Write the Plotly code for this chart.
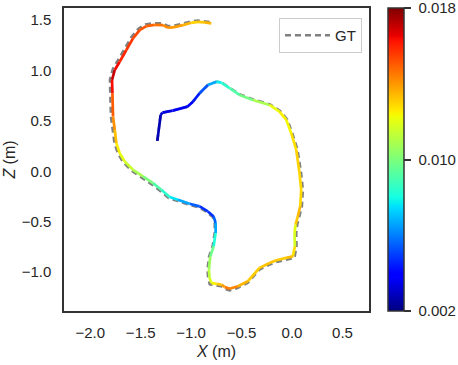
import plotly.graph_objects as go
from plotly.colors import sample_colorscale

# estimated trajectory (m)
est_x = [-1.335, -1.302, -1.285, -1.183, -1.035, -0.982, -0.916, -0.834, -0.750, -0.701,
         -0.619, -0.520, -0.388, -0.223, -0.124, -0.057, -0.008, 0.042, 0.074, 0.091,
         0.081, 0.057, 0.035, 0.025, 0.028, 0.008, -0.057, -0.156, -0.223, -0.322,
         -0.438, -0.537, -0.619, -0.668, -0.701, -0.750, -0.800, -0.817, -0.824, -0.810,
         -0.777, -0.757, -0.757, -0.777, -0.834, -0.916, -1.015, -1.131, -1.213, -1.295,
         -1.378, -1.477, -1.576, -1.658, -1.708, -1.741, -1.757, -1.774, -1.780, -1.784,
         -1.757, -1.708, -1.642, -1.576, -1.510, -1.444, -1.361, -1.279, -1.229, -1.180,
         -1.081, -0.998, -0.933, -0.866, -0.800]
est_z = [0.302, 0.559, 0.582, 0.602, 0.642, 0.691, 0.774, 0.856, 0.889, 0.879,
         0.824, 0.757, 0.708, 0.658, 0.592, 0.510, 0.378, 0.213, -0.015, -0.183,
         -0.349, -0.448, -0.530, -0.612, -0.745, -0.844, -0.859, -0.883, -0.909, -0.958,
         -1.091, -1.141, -1.166, -1.147, -1.124, -1.117, -1.107, -1.057, -0.975, -0.844,
         -0.745, -0.612, -0.513, -0.448, -0.398, -0.348, -0.322, -0.282, -0.255, -0.183,
         -0.117, -0.051, 0.015, 0.097, 0.180, 0.279, 0.411, 0.543, 0.774, 0.906,
         1.005, 1.087, 1.203, 1.319, 1.401, 1.441, 1.453, 1.450, 1.424, 1.428,
         1.450, 1.473, 1.483, 1.477, 1.467]
# per-point error
err = [0.0025, 0.0030, 0.0032, 0.0035, 0.0037, 0.0040, 0.0048, 0.0058, 0.0075, 0.0080,
       0.0088, 0.0095, 0.0102, 0.0115, 0.0128, 0.0122, 0.0125, 0.0130, 0.0130, 0.0128,
       0.0130, 0.0138, 0.0125, 0.0115, 0.0120, 0.0135, 0.0132, 0.0130, 0.0135, 0.0130,
       0.0132, 0.0138, 0.0148, 0.0142, 0.0135, 0.0128, 0.0122, 0.0115, 0.0110, 0.0102,
       0.0092, 0.0072, 0.0060, 0.0050, 0.0045, 0.0050, 0.0060, 0.0072, 0.0080, 0.0088,
       0.0095, 0.0105, 0.0112, 0.0118, 0.0122, 0.0128, 0.0138, 0.0145, 0.0155, 0.0172,
       0.0168, 0.0160, 0.0158, 0.0155, 0.0152, 0.0150, 0.0148, 0.0145, 0.0140, 0.0140,
       0.0138, 0.0132, 0.0128, 0.0135, 0.0135]

# ground truth trajectory (m)
gt_x = [-1.335, -1.302, -1.285, -1.183, -1.035, -0.982, -0.916, -0.834, -0.750, -0.701,
        -0.617, -0.517, -0.384, -0.217, -0.117, -0.048, 0.002, 0.055, 0.090, 0.108,
        0.098, 0.075, 0.052, 0.042, 0.045, 0.024, -0.055, -0.154, -0.221, -0.322,
        -0.440, -0.540, -0.621, -0.670, -0.703, -0.752, -0.815, -0.832, -0.838, -0.822,
        -0.788, -0.767, -0.766, -0.785, -0.840, -0.920, -1.020, -1.137, -1.222, -1.306,
        -1.390, -1.490, -1.590, -1.674, -1.725, -1.760, -1.778, -1.795, -1.802, -1.805,
        -1.776, -1.726, -1.660, -1.592, -1.522, -1.452, -1.365, -1.279, -1.229, -1.180,
        -1.081, -0.998, -0.933, -0.866, -0.800]
gt_z = [0.302, 0.559, 0.582, 0.602, 0.642, 0.691, 0.774, 0.856, 0.889, 0.881,
        0.828, 0.762, 0.713, 0.664, 0.598, 0.515, 0.382, 0.215, -0.015, -0.183,
        -0.349, -0.448, -0.530, -0.612, -0.745, -0.860, -0.876, -0.900, -0.926, -0.975,
        -1.108, -1.158, -1.183, -1.164, -1.141, -1.134, -1.122, -1.060, -0.975, -0.844,
        -0.745, -0.612, -0.513, -0.455, -0.408, -0.358, -0.333, -0.294, -0.267, -0.195,
        -0.130, -0.063, 0.005, 0.090, 0.175, 0.279, 0.411, 0.543, 0.774, 0.910,
        1.015, 1.098, 1.216, 1.332, 1.415, 1.457, 1.470, 1.467, 1.441, 1.444,
        1.466, 1.489, 1.497, 1.491, 1.478]

cb_ticks = [0.002, 0.010, 0.018]
cb_text = ['0.002', '0.010', '0.018']
err_min, err_max = 0.002, 0.018

# matplotlib-like jet
JET = [
    [0.0, 'rgb(0,0,127)'], [0.11, 'rgb(0,0,255)'], [0.125, 'rgb(0,0,255)'],
    [0.34, 'rgb(0,219,255)'], [0.35, 'rgb(0,230,247)'], [0.375, 'rgb(21,255,226)'],
    [0.64, 'rgb(239,255,8)'], [0.65, 'rgb(247,246,0)'], [0.66, 'rgb(255,236,0)'],
    [0.89, 'rgb(255,19,0)'], [0.91, 'rgb(232,0,0)'], [1.0, 'rgb(127,0,0)'],
]

FONT = 'Liberation Sans, Arial, sans-serif'
TXT = '#262626'

fig = go.Figure()

fig.add_trace(go.Scatter(
    x=gt_x, y=gt_z, mode='lines', name='GT',
    line=dict(color='#808080', width=2.5, dash='6px,4px'),
    hoverinfo='skip'
))

# colored estimate, one segment at a time
for i in range(len(est_x) - 1):
    e = 0.5 * (err[i] + err[i + 1])
    c = sample_colorscale(JET, [(e - err_min) / (err_max - err_min)])[0]
    fig.add_trace(go.Scatter(
        x=est_x[i:i + 2], y=est_z[i:i + 2], mode='lines',
        line=dict(color=c, width=2.7), showlegend=False, hoverinfo='skip'
    ))

# colorbar holder
fig.add_trace(go.Scatter(
    x=est_x, y=est_z, mode='markers', showlegend=False, hoverinfo='skip',
    marker=dict(size=0.1, opacity=0, color=err, colorscale=JET, cmin=err_min, cmax=err_max,
                showscale=True,
                colorbar=dict(x=1.062, xanchor='left', y=0.5, yanchor='middle', len=1,
                              thickness=16, xpad=0, ypad=0,
                              outlinewidth=1.5, outlinecolor='#333',
                              tickvals=cb_ticks, ticktext=['\u00a0' + t for t in cb_text],
                              ticks='outside', ticklen=7, tickcolor='#333', tickwidth=1.5,
                              ticklabeloverflow='allow',
                              tickfont=dict(size=15, color=TXT, family=FONT)))
))

fig.update_xaxes(
    range=[-2.26, 0.763], tickvals=[-2.0, -1.5, -1.0, -0.5, 0.0, 0.5],
    ticktext=['\u22122.0', '\u22121.5', '\u22121.0', '\u22120.5', '0.0', '0.5'],
    showgrid=False, zeroline=False, showline=True, mirror=True,
    linecolor='#333', linewidth=1.5, automargin=False,
    ticks='outside', ticklen=7, tickcolor='rgba(0,0,0,0)',
    tickfont=dict(size=15, color=TXT),
    title=dict(text='<i>X</i> (m)', font=dict(size=16, color=TXT), standoff=6)
)
fig.update_yaxes(
    range=[-1.386, 1.62], tickvals=[-1.0, -0.5, 0.0, 0.5, 1.0, 1.5],
    ticktext=['\u22121.0', '\u22120.5', '0.0', '0.5', '1.0', '1.5'],
    showgrid=False, zeroline=False, showline=True, mirror=True,
    linecolor='#333', linewidth=1.5, automargin=False,
    ticks='outside', ticklen=8, tickcolor='rgba(0,0,0,0)',
    tickfont=dict(size=15, color=TXT),
    title=dict(text='<i>Z</i> (m)', font=dict(size=16, color=TXT), standoff=2)
)

fig.update_layout(
    width=458, height=365,
    margin=dict(l=64, r=89, t=8, b=54, autoexpand=False),
    paper_bgcolor='white', plot_bgcolor='white',
    font=dict(family=FONT, size=15, color=TXT),
    legend=dict(x=0.977, y=0.967, xanchor='right', yanchor='top',
                bgcolor='white', bordercolor='#cccccc', borderwidth=1,
                itemwidth=45, font=dict(size=15)),
)

# page has a default body margin; drop it so the figure sits at 0,0
fig.write_html("out.html", config={'displayModeBar': False},
               post_script="document.body.style.margin='0';")
